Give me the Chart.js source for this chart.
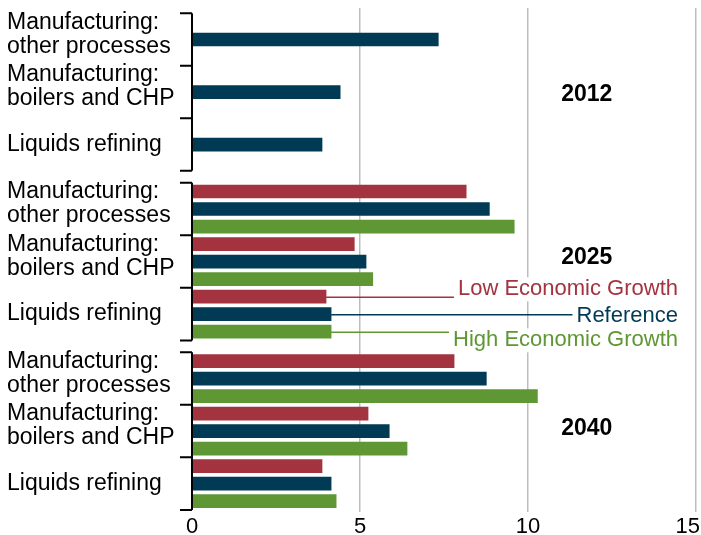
<!DOCTYPE html>
<html>
<head>
<meta charset="utf-8">
<title>Industrial energy use by scenario</title>
<script src="https://cdn.jsdelivr.net/npm/chart.js@4.4.1/dist/chart.umd.min.js"></script>
<style>
    html, body { margin: 0; padding: 0; background: #fff; }
    #wrap { width: 701px; height: 535px; }
</style>
</head>
<body>
<div id="wrap"><canvas id="industryChart" width="701" height="535"></canvas></div>
<script>
const years = ['2012', '2025', '2040'];
const categories = [
    ['Manufacturing:', 'other processes'],
    ['Manufacturing:', 'boilers and CHP'],
    ['Liquids refining']
];
const seriesNames = ['Low Economic Growth', 'Reference', 'High Economic Growth'];
const seriesColors = ['#a3333f', '#003a54', '#5e9733'];

// values in order year x category: 2012 (3), 2025 (3), 2040 (3)
const lowGrowth  = [null, null, null, 8.16, 4.83, 3.99, 7.80, 5.24, 3.87];
const reference  = [7.33, 4.41, 3.87, 8.85, 5.18, 4.14, 8.76, 5.87, 4.14];
const highGrowth = [null, null, null, 9.59, 5.38, 4.14, 10.28, 6.40, 4.29];

const xTicks = [0, 5, 10, 15];

// layout of the index axis, counted in bar rows
const GAP = 0.68;
function groupStart(g) { return g * (9 + GAP); }
function barPos(i, s) {
    const g = Math.floor(i / 3), c = i % 3;
    return groupStart(g) + c * 3 + s + 0.5;
}

const seriesValues = [lowGrowth, reference, highGrowth];
const datasets = seriesValues.map((vals, s) => ({
    label: seriesNames[s],
    data: vals.map((v, i) => ({ x: v, y: barPos(i, s) })),
    backgroundColor: seriesColors[s],
    barThickness: 13,
    grouped: false
}));

const FONT = '"Liberation Sans", Arial, sans-serif';

const annotations = {
    id: 'annotations',
    afterDatasetsDraw(chart) {
        const ctx = chart.ctx;
        const xs = chart.scales.x, ys = chart.scales.y, area = chart.chartArea;
        const yearShift = [3, -4, -2];
        ctx.save();

        years.forEach((yr, g) => {
            // bracket
            ctx.strokeStyle = '#000';
            ctx.lineWidth = 2;
            ctx.beginPath();
            ctx.moveTo(area.left, ys.getPixelForValue(groupStart(g)));
            ctx.lineTo(area.left, ys.getPixelForValue(groupStart(g) + 9));
            for (let k = 0; k <= 3; k++) {
                const yy = ys.getPixelForValue(groupStart(g) + 3 * k);
                ctx.moveTo(area.left - 12, yy);
                ctx.lineTo(area.left, yy);
            }
            ctx.stroke();

            // category labels
            ctx.fillStyle = '#000';
            ctx.font = '23px ' + FONT;
            ctx.textAlign = 'left';
            ctx.textBaseline = 'alphabetic';
            categories.forEach((lines, c) => {
                const mid = ys.getPixelForValue(groupStart(g) + c * 3 + 1.5);
                if (lines.length === 2) {
                    ctx.fillText(lines[0], 7, mid - 11);
                    ctx.fillText(lines[1], 7, mid + 13);
                } else {
                    ctx.fillText(lines[0], 7, mid + 6);
                }
            });

            // year label
            ctx.font = 'bold 23px ' + FONT;
            ctx.textAlign = 'center';
            ctx.textBaseline = 'middle';
            ctx.fillText(yr, xs.getPixelForValue(11.75), ys.getPixelForValue(groupStart(g) + 4.5) + yearShift[g]);
        });

        // legend with leader lines to the 2025 Liquids refining bars
        const textOffsets = [-8, 1, 8];
        const right = area.right - 18;
        ctx.font = '22px ' + FONT;
        ctx.textAlign = 'right';
        ctx.textBaseline = 'middle';
        seriesNames.forEach((name, s) => {
            const bar = chart.getDatasetMeta(s).data[5];
            const lineY = bar.y + 0.7;
            const textY = lineY + textOffsets[s];
            const w = ctx.measureText(name).width;
            ctx.fillStyle = '#fff';
            ctx.fillRect(right - w - 1, textY - 12, w + 2, 24);
            ctx.strokeStyle = seriesColors[s];
            ctx.lineWidth = 1.5;
            ctx.beginPath();
            ctx.moveTo(bar.x, lineY);
            ctx.lineTo(right - w - 4, lineY);
            ctx.stroke();
            ctx.fillStyle = seriesColors[s];
            ctx.fillText(name, right, textY);
        });

        // x tick labels
        ctx.fillStyle = '#000';
        ctx.font = '22px ' + FONT;
        ctx.textAlign = 'center';
        ctx.textBaseline = 'middle';
        xTicks.forEach(v => {
            const w = ctx.measureText(String(v)).width;
            let cx = xs.getPixelForValue(v);
            if (cx + w / 2 > chart.width - 1) cx = chart.width - 1 - w / 2;
            ctx.fillText(String(v), cx, area.bottom + 15);
        });

        ctx.restore();
    }
};

const ctxIndustry = document.getElementById('industryChart').getContext('2d');
const industryChart = new Chart(ctxIndustry, {
    type: 'bar',
    data: { datasets: datasets },
    options: {
        indexAxis: 'y',
        responsive: false,
        animation: false,
        layout: { padding: { left: 192, right: 5, top: 8, bottom: 23 } },
        plugins: {
            legend: { display: false },
            tooltip: { enabled: false }
        },
        scales: {
            x: {
                type: 'linear',
                min: 0,
                max: 15,
                ticks: { display: false, stepSize: 5 },
                grid: {
                    color: c => c.tick && c.tick.value === 0 ? 'rgba(0,0,0,0)' : '#bdbdbd',
                    lineWidth: 1.5,
                    drawTicks: false
                },
                border: { display: false }
            },
            y: {
                type: 'linear',
                reverse: true,
                offset: false,
                min: -0.3,
                max: 27 + 2 * GAP + 0.12,
                display: false
            }
        }
    },
    plugins: [annotations]
});
</script>
</body>
</html>
